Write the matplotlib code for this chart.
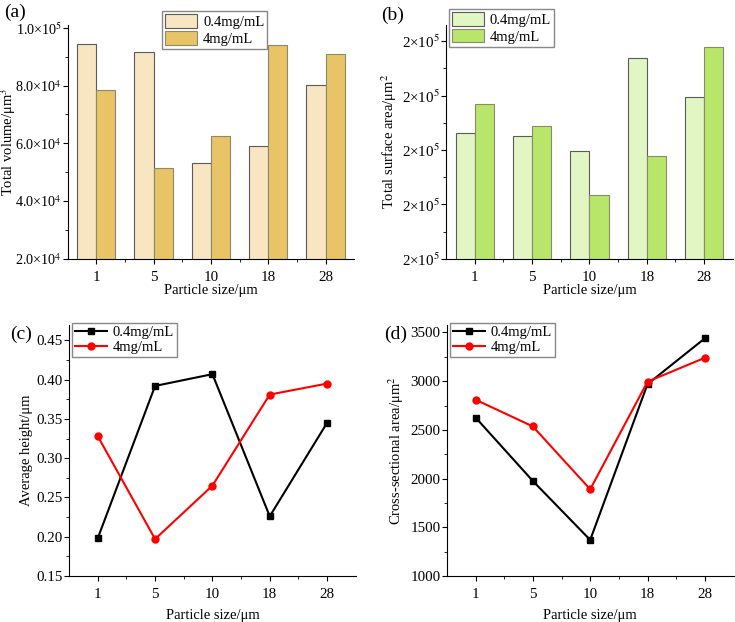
import numpy as np
import matplotlib
matplotlib.use('Agg')
import matplotlib.pyplot as plt
from matplotlib.ticker import FuncFormatter, MultipleLocator, FixedLocator

plt.rcParams['font.family'] = ['Liberation Serif', 'DejaVu Serif']
plt.rcParams['mathtext.fontset'] = 'stix'
plt.rcParams['font.size'] = 11

sizes = ['1', '5', '10', '18', '28']
series = ['0.4mg/mL', '4mg/mL']

volume_low = [9.44e4, 9.15e4, 5.30e4, 5.92e4, 8.02e4]
volume_high = [7.83e4, 5.16e4, 6.24e4, 9.41e4, 9.09e4]

surface_low = [2.061e5, 2.051e5, 1.995e5, 2.337e5, 2.194e5]
surface_high = [2.169e5, 2.089e5, 1.833e5, 1.978e5, 2.378e5]

height_low = [0.198, 0.392, 0.407, 0.226, 0.345]
height_high = [0.328, 0.197, 0.265, 0.381, 0.395]

cross_low = [2627, 1975, 1370, 2970, 3440]
cross_high = [2810, 2535, 1890, 2995, 3240]


def sci_fmt(decimals):
    def f(v, pos):
        if v == 0:
            return '0'
        e = int(np.floor(np.log10(abs(v))))
        m = v / 10 ** e
        return '{:.{d}f}×10$^{{{}}}$'.format(m, e, d=decimals)
    return FuncFormatter(f)


def style_axes(ax, ylabel, label_x, xpad):
    ax.spines['top'].set_visible(False)
    ax.spines['right'].set_visible(False)
    ax.tick_params(direction='out', which='both', labelsize=10.8)
    ax.tick_params(which='major', length=3.5)
    ax.tick_params(which='minor', length=2)
    ax.tick_params(axis='y', pad=1)
    ax.tick_params(axis='x', pad=5)
    x = np.arange(len(sizes))
    ax.set_xticks(x)
    ax.set_xticklabels(sizes)
    ax.xaxis.set_minor_locator(FixedLocator(x[:-1] + 0.5))
    ax.set_xlim(-0.5, 4.5)
    ax.set_xlabel('Particle size/μm', fontsize=10.5, labelpad=xpad)
    ax.set_ylabel(ylabel, fontsize=10.5)
    ax.yaxis.set_label_coords(label_x, 0.5)


def bar_panel(ax, low, high, colors, ylabel, label_x):
    x = np.arange(len(sizes))
    w = 0.335
    ax.bar(x - w / 2, low, w, color=colors[0], edgecolor='#5a5a5a',
           linewidth=0.8, label=series[0])
    ax.bar(x + w / 2, high, w, color=colors[1], edgecolor='#8a8a6a',
           linewidth=0.8, label=series[1])
    style_axes(ax, ylabel, label_x, 0)


def line_panel(ax, low, high, ylabel, label_x):
    x = np.arange(len(sizes))
    ax.plot(x, low, color='black', marker='s', markersize=5, linewidth=1.5,
            label=series[0])
    ax.plot(x, high, color='red', marker='o', markersize=5, linewidth=1.5,
            label=series[1])
    style_axes(ax, ylabel, label_x, 6)


fig = plt.figure(figsize=(7.35, 6.22), dpi=100)
ax_a = fig.add_axes([0.092, 0.584, 0.39, 0.376])
ax_b = fig.add_axes([0.607, 0.584, 0.39, 0.376])
ax_c = fig.add_axes([0.094, 0.074, 0.39, 0.404])
ax_d = fig.add_axes([0.608, 0.074, 0.39, 0.404])

# (a)
bar_panel(ax_a, volume_low, volume_high, ['#F8E6C2', '#E9C466'],
          'Total volume/μm$^3$', -0.172)
ax_a.set_ylim(2e4, 1.01e5)
ax_a.yaxis.set_major_locator(MultipleLocator(2e4))
ax_a.yaxis.set_minor_locator(MultipleLocator(1e4))
ax_a.yaxis.set_major_formatter(sci_fmt(1))
ax_a.tick_params(axis='y', labelsize=10.2, pad=0.5)

# (b)
bar_panel(ax_b, surface_low, surface_high, ['#E1F6C3', '#B8E66B'],
          'Total surface area/μm$^2$', -0.165)
ax_b.set_ylim(1.6e5, 2.46e5)
ax_b.yaxis.set_major_locator(MultipleLocator(0.2e5))
ax_b.yaxis.set_minor_locator(MultipleLocator(0.1e5))
ax_b.yaxis.set_major_formatter(sci_fmt(0))

# (c)
line_panel(ax_c, height_low, height_high, 'Average height/μm', -0.125)
ax_c.set_ylim(0.15, 0.47)
ax_c.yaxis.set_major_locator(MultipleLocator(0.05))
ax_c.yaxis.set_minor_locator(MultipleLocator(0.025))
ax_c.yaxis.set_major_formatter(FuncFormatter(lambda v, p: '{:.2f}'.format(v)))

# (d)
line_panel(ax_d, cross_low, cross_high, 'Cross-sectional area/μm$^2$', -0.142)
ax_d.set_ylim(1000, 3580)
ax_d.yaxis.set_major_locator(MultipleLocator(500))
ax_d.yaxis.set_minor_locator(MultipleLocator(250))

leg_kw = dict(fontsize=10.5, fancybox=False, edgecolor='#888888',
              framealpha=1, borderpad=0.2, labelspacing=0.15,
              handletextpad=0.4, borderaxespad=0.2)
ax_a.legend(loc='upper left', bbox_to_anchor=(0.32, 1.07),
            handlelength=2.2, handleheight=1.05, **leg_kw)
ax_b.legend(loc='upper left', bbox_to_anchor=(0.0, 1.08),
            handlelength=2.2, handleheight=1.05, **leg_kw)
ax_c.legend(loc='upper left', bbox_to_anchor=(0.0, 1.02),
            handlelength=2.2, **leg_kw)
ax_d.legend(loc='upper left', bbox_to_anchor=(0.0, 1.02),
            handlelength=2.2, **leg_kw)

fig.text(0.005, 0.98, '(a)', fontsize=14, va='center')
fig.text(0.519, 0.976, '(b)', fontsize=14, va='center')
fig.text(0.014, 0.462, '(c)', fontsize=14, va='center')
fig.text(0.522, 0.462, '(d)', fontsize=14, va='center')

fig.savefig('out.png', dpi=100)
